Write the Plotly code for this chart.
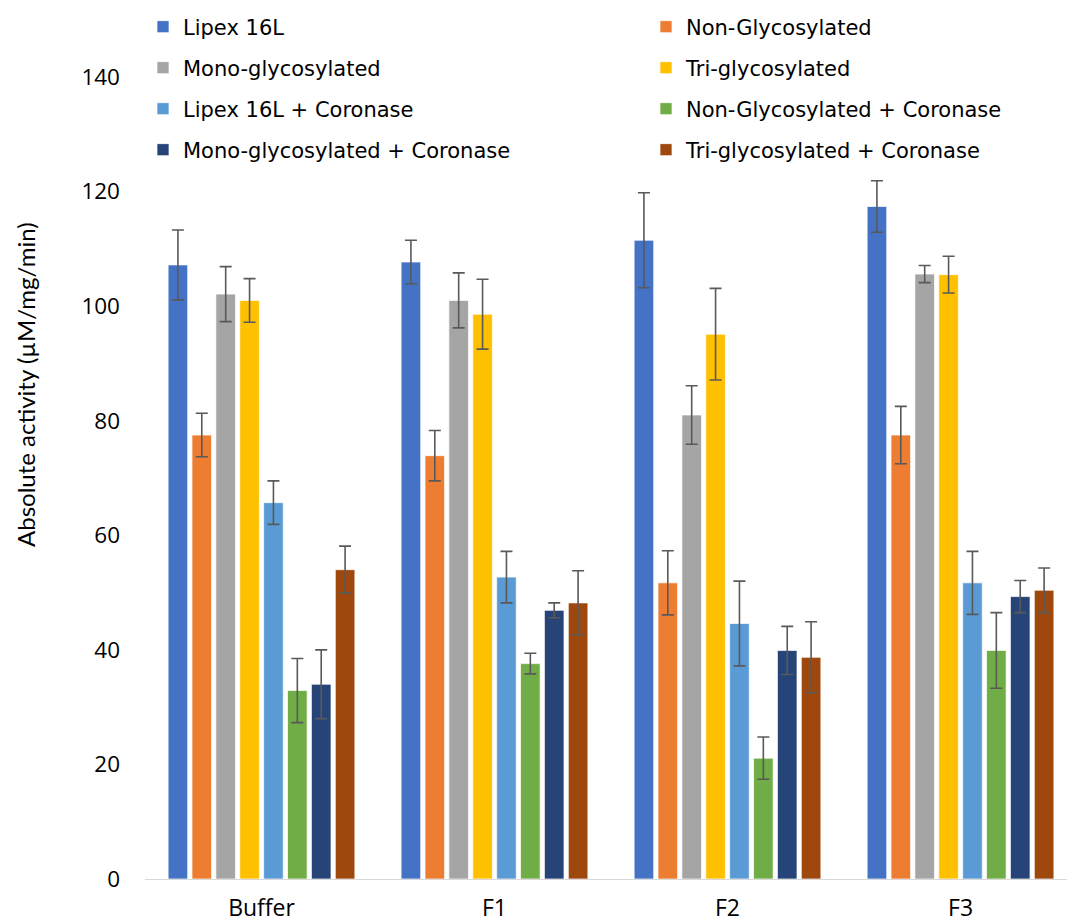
import plotly.graph_objects as go

# Absolute activity per formulation (µM/mg/min) with standard deviations
categories = ["Buffer", "F1", "F2", "F3"]

series_names = [
    "Lipex 16L",
    "Non-Glycosylated",
    "Mono-glycosylated",
    "Tri-glycosylated",
    "Lipex 16L + Coronase",
    "Non-Glycosylated + Coronase",
    "Mono-glycosylated + Coronase",
    "Tri-glycosylated + Coronase",
]

lipex = [107.2, 107.7, 111.5, 117.4]
lipex_err = [6.1, 3.8, 8.3, 4.5]
non_glyco = [77.5, 73.9, 51.7, 77.5]
non_glyco_err = [3.8, 4.4, 5.6, 5.0]
mono_glyco = [102.1, 101.0, 81.0, 105.6]
mono_glyco_err = [4.8, 4.8, 5.1, 1.5]
tri_glyco = [101.0, 98.6, 95.1, 105.5]
tri_glyco_err = [3.8, 6.1, 8.0, 3.2]
lipex_cor = [65.7, 52.7, 44.6, 51.7]
lipex_cor_err = [3.8, 4.5, 7.4, 5.5]
non_glyco_cor = [32.9, 37.6, 21.1, 39.9]
non_glyco_cor_err = [5.6, 1.8, 3.7, 6.6]
mono_glyco_cor = [34.0, 46.9, 39.9, 49.3]
mono_glyco_cor_err = [6.0, 1.3, 4.2, 2.8]
tri_glyco_cor = [54.0, 48.2, 38.7, 50.4]
tri_glyco_cor_err = [4.1, 5.6, 6.2, 3.9]

y_ticks = [0, 20, 40, 60, 80, 100, 120, 140]

values = [lipex, non_glyco, mono_glyco, tri_glyco,
          lipex_cor, non_glyco_cor, mono_glyco_cor, tri_glyco_cor]
errors = [lipex_err, non_glyco_err, mono_glyco_err, tri_glyco_err,
          lipex_cor_err, non_glyco_cor_err, mono_glyco_cor_err, tri_glyco_cor_err]
colors = ["#4472C4", "#ED7D31", "#A5A5A5", "#FFC000",
          "#5B9BD5", "#70AD47", "#264478", "#9E480E"]

W, H = 1067, 922
ML, MR, MT, MB = 145, 0, 0, 43
plot_h = H - MT - MB
plot_w = W - ML - MR
y_top_px, y_zero_px = 77, H - MB          # where 140 and 0 sit on the page
px_per_unit = (y_zero_px - y_top_px) / 140.0
y_max = (plot_h) / px_per_unit            # extra headroom holds the legend

def py(pixel_y):
    return (H - MB - pixel_y) / plot_h

def px(pixel_x):
    return (pixel_x - ML) / plot_w

# one legend box per entry, laid out as a two-column grid
legend_ids = ["legend"] + [f"legend{i}" for i in range(2, 9)]
col_left = [143, 646]
row_y = [27, 68, 109, 150]

fig = go.Figure()
for i, (name, vals, errs, col) in enumerate(zip(series_names, values, errors, colors)):
    fig.add_trace(go.Bar(
        name=name,
        x=categories,
        y=vals,
        marker=dict(color=col, line=dict(color="rgba(255,255,255,0.7)", width=1)),
        error_y=dict(type="data", array=errs, visible=True,
                     color="#595959", thickness=1.6, width=6),
        legend=legend_ids[i],
    ))

layout_legends = {}
for i, lid in enumerate(legend_ids):
    layout_legends[lid] = dict(
        x=px(col_left[i % 2]), y=py(row_y[i // 2]),
        xanchor="left", yanchor="middle",
        orientation="v",
        font=dict(family="DejaVu Sans", size=21, color="#000000"),
        bgcolor="rgba(0,0,0,0)",
        borderwidth=0,
    )

fig.update_layout(
    width=W, height=H,
    margin=dict(l=ML, r=MR, t=MT, b=MB),
    paper_bgcolor="white",
    plot_bgcolor="white",
    barmode="group",
    bargap=0.18,
    bargroupgap=0.18,
    showlegend=True,
    font=dict(family="Open Sans", size=20, color="#000000"),
    xaxis=dict(
        range=[-0.5, 3.457],
        showline=True, linecolor="#D9D9D9", linewidth=1,
        ticks="", showgrid=False, zeroline=False,
        ticklabelstandoff=8,
        tickfont=dict(family="Open Sans", size=23, color="#000000"),
    ),
    yaxis=dict(
        range=[0, y_max],
        tickvals=y_ticks,
        showline=False, showgrid=False, zeroline=False, ticks="",
        ticklabelstandoff=24,
        tickfont=dict(family="Open Sans", size=22.5, color="#000000"),
    ),
    annotations=[dict(
        text="Absolute activity (µM/mg/min)",
        xref="paper", yref="paper",
        x=px(25), y=py(385),
        xanchor="center", yanchor="middle",
        textangle=-90, showarrow=False,
        font=dict(family="Lato", size=24, color="#000000"),
    )],
    **layout_legends,
)

fig.write_html("out.html")
